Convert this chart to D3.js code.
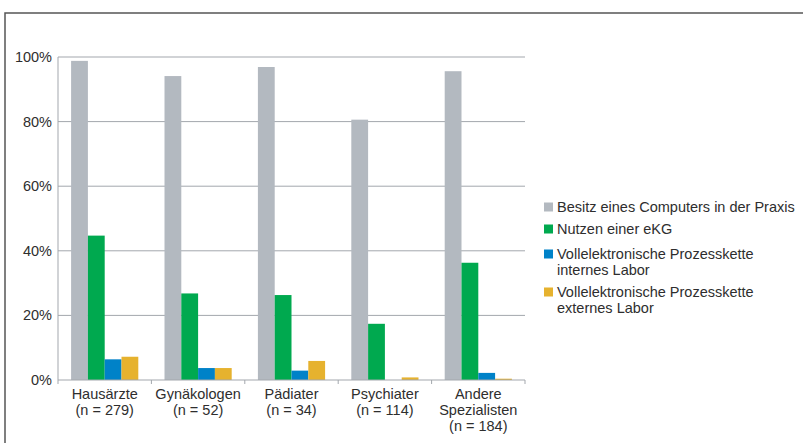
<!DOCTYPE html>
<html>
<head>
<meta charset="utf-8">
<script src="https://cdn.jsdelivr.net/npm/d3@7"></script>
<style>
  body { margin: 0; background: #fff; }
  text { font-family: "Liberation Sans", Arial, sans-serif; fill: #2e2e2e; }
</style>
</head>
<body>
<svg id="chart" width="803" height="443"></svg>
<script>
// Data
const categories = [
    ["Hausärzte", "(n = 279)"],
    ["Gynäkologen", "(n = 52)"],
    ["Pädiater", "(n = 34)"],
    ["Psychiater", "(n = 114)"],
    ["Andere", "Spezialisten", "(n = 184)"]
];
const seriesNames = [
    ["Besitz eines Computers in der Praxis"],
    ["Nutzen einer eKG"],
    ["Vollelektronische Prozesskette", "internes Labor"],
    ["Vollelektronische Prozesskette", "externes Labor"]
];
const computerValues = [98.8, 94.1, 96.9, 80.6, 95.6];
const ekgValues = [44.7, 26.8, 26.3, 17.4, 36.3];
const internValues = [6.4, 3.7, 2.9, 0, 2.2];
const externValues = [7.2, 3.7, 5.9, 0.8, 0.4];
const yTicks = [0, 20, 40, 60, 80, 100];

const colors = ["#b3b9c0", "#00a94f", "#0082c8", "#e6b22e"];
const allSeries = [computerValues, ekgValues, internValues, externValues];

const svg = d3.select("#chart");
const plotLeft = 58, plotRight = 525, plotTop = 57, plotBottom = 380;
const fontSize = 14.5;

// frame
svg.append("path")
    .attr("d", "M5,443 L5,13 L803,13")
    .attr("fill", "none")
    .attr("stroke", "#555")
    .attr("stroke-width", 1.5);

const x = d3.scaleBand().domain(d3.range(categories.length)).range([plotLeft, plotRight]);
const xInner = d3.scaleBand().domain(d3.range(allSeries.length))
    .range([0, x.bandwidth()]).paddingOuter(0.78).paddingInner(0);
const y = d3.scaleLinear().domain([0, 100]).range([plotBottom, plotTop]);

// gridlines
svg.append("g").selectAll("line").data(yTicks.slice(1)).join("line")
    .attr("x1", plotLeft).attr("x2", plotRight)
    .attr("y1", d => y(d)).attr("y2", d => y(d))
    .attr("stroke", "#a3a7ad").attr("stroke-width", 1);

// y axis line
svg.append("line")
    .attr("x1", plotLeft).attr("x2", plotLeft).attr("y1", plotTop).attr("y2", plotBottom)
    .attr("stroke", "#a3a7ad");

// y labels
svg.append("g").selectAll("text").data(yTicks).join("text")
    .attr("x", 52).attr("y", d => y(d) + 5)
    .attr("text-anchor", "end")
    .attr("font-size", fontSize)
    .text(d => d + "%");

// bars
allSeries.forEach((vals, s) => {
    svg.append("g").selectAll("rect").data(vals).join("rect")
        .attr("x", (d, i) => x(i) + xInner(s))
        .attr("width", xInner.bandwidth())
        .attr("y", d => y(d))
        .attr("height", d => plotBottom - y(d))
        .attr("fill", colors[s]);
});

// x baseline with ticks
svg.append("line")
    .attr("x1", plotLeft).attr("x2", plotRight).attr("y1", plotBottom).attr("y2", plotBottom)
    .attr("stroke", "#a3a7ad");
const bounds = d3.range(categories.length + 1).map(i => i < categories.length ? x(i) : plotRight);
svg.append("g").selectAll("line").data(bounds).join("line")
    .attr("x1", d => d).attr("x2", d => d)
    .attr("y1", plotBottom).attr("y2", plotBottom + 4)
    .attr("stroke", "#a3a7ad");

// x labels
categories.forEach((lines, i) => {
    const t = svg.append("text")
        .attr("x", x(i) + x.bandwidth() / 2)
        .attr("y", 399)
        .attr("text-anchor", "middle")
        .attr("font-size", fontSize);
    lines.forEach((l, k) => {
        t.append("tspan").attr("x", x(i) + x.bandwidth() / 2)
            .attr("dy", k === 0 ? 0 : 16).text(l);
    });
});

// legend
const legendY = [207, 229, 254, 292];
seriesNames.forEach((lines, s) => {
    svg.append("rect")
        .attr("x", 544).attr("y", legendY[s] - 4.5)
        .attr("width", 9).attr("height", 9)
        .attr("fill", colors[s]);
    const t = svg.append("text")
        .attr("x", 557).attr("y", legendY[s] + 5)
        .attr("font-size", fontSize);
    lines.forEach((l, k) => {
        t.append("tspan").attr("x", 557).attr("dy", k === 0 ? 0 : 16).text(l);
    });
});
</script>
</body>
</html>
